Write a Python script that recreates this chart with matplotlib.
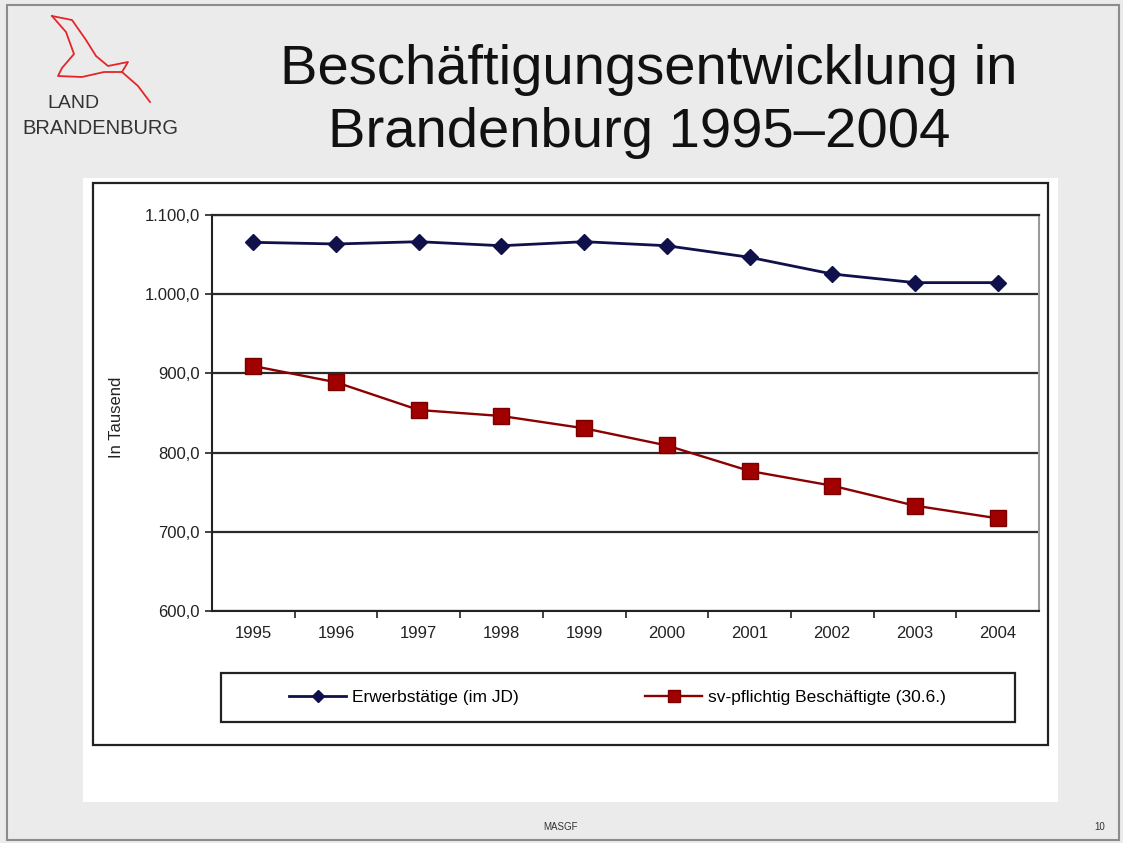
import matplotlib.pyplot as plt
from matplotlib.patches import Rectangle
from matplotlib.lines import Line2D

plt.rcParams['font.family'] = ['Liberation Sans', 'DejaVu Sans']

years = ["1995", "1996", "1997", "1998", "1999", "2000", "2001", "2002", "2003", "2004"]
erwerbstaetige = [1065.5, 1063.4, 1066.3, 1061.2, 1066.3, 1061.2, 1046.6, 1025.5, 1014.6, 1014.6]
sv_beschaeftigte = [909.3, 888.8, 853.8, 846.2, 830.7, 809.0, 776.8, 758.2, 733.0, 717.0]
y_ticks = [600, 700, 800, 900, 1000, 1100]
y_labels = ["600,0", "700,0", "800,0", "900,0", "1.000,0", "1.100,0"]

W, H = 1123, 843
fig = plt.figure(figsize=(W / 100, H / 100), dpi=100)
fig.patch.set_facecolor("#ebebeb")


def px(x0, y0, x1, y1):
    # pixel box (top-left origin) -> figure fraction rect
    return x0 / W, 1 - y1 / H, (x1 - x0) / W, (y1 - y0) / H


def add_rect(x0, y0, x1, y1, **kw):
    l, b, w, h = px(x0, y0, x1, y1)
    fig.patches.append(Rectangle((l, b), w, h, transform=fig.transFigure, **kw))


# slide border, white chart area, chart frame
add_rect(7, 5, 1119, 840, facecolor="none", edgecolor="#8c8c8c", lw=1.5, zorder=0)
add_rect(83, 178, 1058, 802, facecolor="white", edgecolor="none", zorder=0)
add_rect(93, 183, 1048, 745, facecolor="none", edgecolor="#222222", lw=1.6, zorder=1)

# title
fig.text(649 / W, 1 - 70 / H, "Beschäftigungsentwicklung in", ha="center", va="center",
         fontsize=40.5, color="#111111")
fig.text(639 / W, 1 - 133 / H, "Brandenburg 1995–2004", ha="center", va="center",
         fontsize=40.5, color="#111111")

# logo
bird_x = [52, 72, 86, 96, 108, 128, 122, 138, 150]
bird_y = [16, 20, 40, 56, 66, 62, 72, 86, 102]
bird2_x = [52, 66, 74, 62, 58, 82, 104, 122]
bird2_y = [16, 32, 54, 68, 76, 77, 72, 72]
for bx, by in [(bird_x, bird_y), (bird2_x, bird2_y)]:
    fig.add_artist(Line2D([v / W for v in bx], [1 - v / H for v in by],
                          transform=fig.transFigure, color="#e3262a", lw=1.3))
fig.text(73 / W, 1 - 104 / H, "LAND", ha="center", va="center", fontsize=14,
         color="#333333")
fig.text(100 / W, 1 - 129 / H, "BRANDENBURG", ha="center", va="center", fontsize=14.5,
         color="#333333")

# footer
fig.text(560 / W, 1 - 827 / H, "MASGF", ha="center", va="center", fontsize=7,
         color="#333333")
fig.text(1100 / W, 1 - 827 / H, "10", ha="center", va="center", fontsize=7,
         color="#333333")

# plot
ax = fig.add_axes(px(212, 215, 1039, 611))
ax.set_zorder(3)
ax.set_facecolor("white")
x = range(len(years))
ax.plot(x, erwerbstaetige, color="#10104a", lw=2, marker="D", markersize=8,
        markerfacecolor="#10104a", markeredgecolor="#10104a", label="Erwerbstätige (im JD)",
        zorder=4)
ax.plot(x, sv_beschaeftigte, color="#8b0000", lw=1.7, marker="s", markersize=11,
        markerfacecolor="#a00000", markeredgecolor="#7a0000", label="sv-pflichtig Beschäftigte (30.6.)",
        zorder=4)

ax.set_xlim(-0.5, len(years) - 0.5)
ax.set_ylim(600, 1100)
ax.set_yticks(y_ticks)
ax.set_yticklabels(y_labels)
ax.set_xticks(list(x))
ax.set_xticklabels(years)
ax.set_xticks([i - 0.5 for i in range(1, len(years))], minor=True)
ax.tick_params(axis="x", which="major", length=0, pad=11, labelsize=12, labelcolor="#222222")
ax.tick_params(axis="x", which="minor", length=5, direction="out", width=1.2, color="#222222")
ax.tick_params(axis="y", length=5, direction="out", width=1.2, color="#222222",
               labelsize=12, labelcolor="#222222", pad=4)
ax.yaxis.grid(True, color="#2a2a2a", lw=1.6)
ax.set_axisbelow(True)
for s in ["left", "bottom"]:
    ax.spines[s].set_color("#222222")
    ax.spines[s].set_linewidth(1.5)
ax.spines["top"].set_color("#2a2a2a")
ax.spines["top"].set_linewidth(1.6)
ax.spines["right"].set_color("#9a9a9a")
ax.spines["right"].set_linewidth(1.5)

ax.set_ylabel("In Tausend", fontsize=12, color="#222222")
ax.yaxis.set_label_coords((124 - 212) / 827, 0.49)

# legend
ax.add_patch(Rectangle((221 / 827 - 212 / 827, (611 - 722) / 396), (1015 - 221) / 827,
                       (722 - 673) / 396, transform=ax.transAxes, facecolor="none",
                       edgecolor="#222222", lw=1.6, clip_on=False))
ax.legend(loc="center", bbox_to_anchor=(0.49, (611 - 697.5) / 396), ncol=2, frameon=False,
          fontsize=12.5, handlelength=3.3, handletextpad=0.3, columnspacing=7.3,
          markerscale=0.75, borderaxespad=0)

fig.savefig("out.png", dpi=100, facecolor=fig.get_facecolor())
